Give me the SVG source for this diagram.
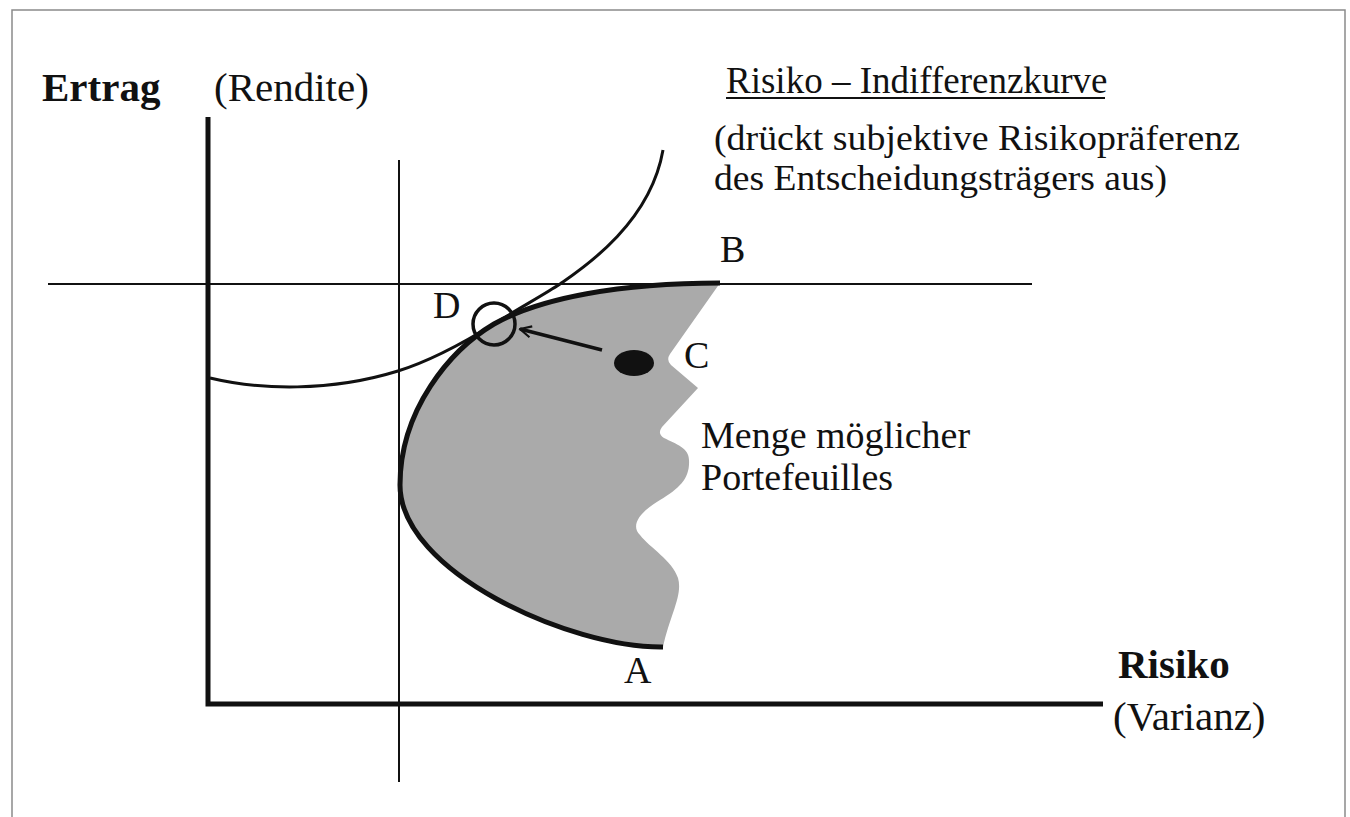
<svg xmlns="http://www.w3.org/2000/svg" width="1350" height="817" viewBox="0 0 1350 817">
<style>
.t{font-family:"Liberation Serif","Times New Roman",serif;fill:#111;}
.ax{font-size:41px;}
.lb{font-size:38px;}
.sm{font-size:35px;}
.b{font-weight:bold;}
.thin{stroke:#111;stroke-width:2;fill:none;}
.axis{stroke:#111;stroke-width:5;fill:none;}
</style>
<defs>
<marker id="arr" viewBox="0 0 20 20" refX="18" refY="10" markerWidth="14" markerHeight="14" markerUnits="userSpaceOnUse" orient="auto">
<path d="M2,2 L18,10 L2,18" fill="none" stroke="#111" stroke-width="3"/>
</marker>
</defs>
<rect x="0" y="0" width="1350" height="817" fill="#fff"/>
<rect x="12" y="10" width="1333" height="830" fill="none" stroke="#8a8a8a" stroke-width="1.5"/>

<g id="set">
<path d="M720,283 L670,354 Q666,360 671,365 L698,388 L662,427 Q657,434 664,438 C676,444 689,448 689,460 C690,478 680,488 660,500 C640,512 630,525 640,535 C650,548 672,560 678,578 C683,595 670,615 663,647 C570,648 400,572 400,485 C400,410 450,350 494,324 C540,298 620,283 720,283 Z" fill="#aaaaaa"/>
<path d="M663,647 C570,648 400,572 400,485 C400,410 450,350 494,324 C540,298 620,283 720,283" fill="none" stroke="#111" stroke-width="5"/>
</g>

<g id="axes">
<line class="thin" x1="48" y1="284" x2="1032" y2="284"/>
<line class="thin" x1="399" y1="160" x2="399" y2="782"/>
<polyline class="axis" points="208,117 208,704 1103,704"/>
</g>

<g id="indifference">
<path d="M210,378 C260,390 330,392 398,371 C430,361 465,342 494,324 C516,310 545,294 560,284 C580,270 650,225 663,150" fill="none" stroke="#111" stroke-width="3"/>
</g>

<g id="pointD">
<circle cx="494" cy="324" r="21" fill="none" stroke="#111" stroke-width="3.5"/>
<text class="t lb" x="433" y="318">D</text>
</g>

<g id="pointC">
<ellipse cx="634" cy="363" rx="20" ry="13" fill="#111"/>
<text class="t lb" x="684" y="368">C</text>
</g>

<g id="connectors">
<line x1="602" y1="350" x2="520" y2="329" stroke="#111" stroke-width="3.5" marker-end="url(#arr)"/>
</g>

<g id="labels">
<text class="t ax b" x="42" y="101">Ertrag</text>
<text class="t ax" x="214" y="101">(Rendite)</text>
<text class="t lb" x="726" y="93" style="font-size:37px">Risiko – Indifferenzkurve</text>
<line x1="726" y1="98" x2="1105" y2="98" stroke="#111" stroke-width="2"/>
<text class="t sm" x="714" y="150" textLength="526" lengthAdjust="spacingAndGlyphs">(drückt subjektive Risikopräferenz</text>
<text class="t sm" x="714" y="190" textLength="453" lengthAdjust="spacingAndGlyphs">des Entscheidungsträgers aus)</text>
<text class="t lb" x="720" y="262">B</text>
<text class="t lb" x="701" y="448">Menge möglicher</text>
<text class="t lb" x="701" y="490">Portefeuilles</text>
<text class="t lb" x="624" y="683">A</text>
<text class="t ax b" x="1118" y="678">Risiko</text>
<text class="t ax" x="1113" y="730">(Varianz)</text>
</g>
</svg>
